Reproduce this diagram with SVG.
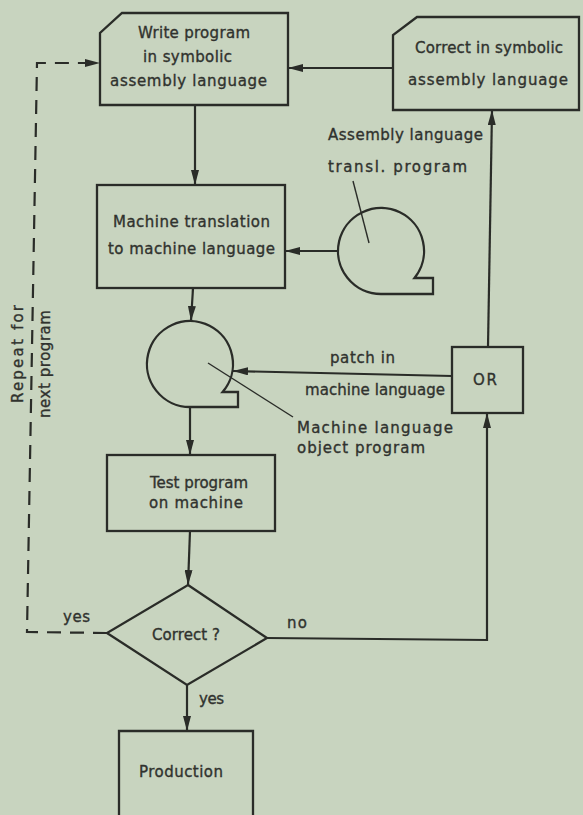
<svg xmlns="http://www.w3.org/2000/svg" width="583" height="815" viewBox="0 0 583 815">
<defs>
<style>
.s{fill:none;stroke:#2a2c28;stroke-width:2.3;stroke-linejoin:miter}
.c{fill:none;stroke:#2a2c28;stroke-width:2.2}
.d{stroke-dasharray:14,9}
.p{fill:none;stroke:#2a2c28;stroke-width:1.4}
text{font-family:"DejaVu Sans","Liberation Sans",sans-serif;font-size:15px;fill:#30322e;stroke:#30322e;stroke-width:0.35}
</style>
<marker id="ah" viewBox="0 0 15 8" refX="15" refY="4" markerWidth="15" markerHeight="8" markerUnits="userSpaceOnUse" orient="auto">
<path d="M0,0 L15,4 L0,8 z" fill="#2a2c28"/>
</marker>
</defs>
<rect width="583" height="815" fill="#c8d4bf"/>

<g id="connectors">
<path class="c" d="M195,105 L195,185" marker-end="url(#ah)"/>
<path class="c" d="M393,68 L288,68" marker-end="url(#ah)"/>
<path class="c" d="M338,251 L285,251" marker-end="url(#ah)"/>
<path class="c" d="M193,288 L191,321" marker-end="url(#ah)"/>
<path class="c" d="M190,407 L190,455" marker-end="url(#ah)"/>
<path class="c" d="M190,531 L188,585" marker-end="url(#ah)"/>
<path class="c" d="M187,685 L187,731" marker-end="url(#ah)"/>
<path class="c" d="M267,638 L487,640 L487,413" marker-end="url(#ah)"/>
<path class="c" d="M452,376 L233,371" marker-end="url(#ah)"/>
<path class="c" d="M488,347 L492,110" marker-end="url(#ah)"/>
<path class="c d" d="M107,633 L27,632 L37,63 L100,63" marker-end="url(#ah)"/>
<path class="p" d="M353,181 L369,243"/>
<path class="p" d="M208,363 L293,417"/>
</g>

<g id="write-program">
<path class="s" d="M122,13 L288,13 L288,105 L100,105 L100,33 Z"/>
<text x="138" y="38" textLength="112">Write program</text>
<text x="143" y="62" textLength="89">in symbolic</text>
<text x="110" y="86" textLength="157">assembly language</text>
</g>

<g id="correct-symbolic">
<path class="s" d="M417,17 L579,17 L579,110 L393,110 L393,35 Z"/>
<text x="415" y="53" textLength="148">Correct in symbolic</text>
<text x="408" y="85" textLength="160">assembly language</text>
</g>

<g id="translator-program">
<path class="s" d="M414.5,278 A43,43 0 1 0 381,294 L433,294 L433,278 Z"/>
<text x="328" y="140" textLength="155">Assembly language</text>
<text x="328" y="172" textLength="139">transl. program</text>
</g>

<g id="machine-translation">
<rect class="s" x="97" y="185" width="188" height="103"/>
<text x="113" y="227" textLength="157">Machine translation</text>
<text x="108" y="254" textLength="167">to machine language</text>
</g>

<g id="object-program">
<path class="s" d="M222.6,392 A43,43 0 1 0 190,407 L238,407 L238,392 Z"/>
<text x="297" y="433" textLength="156">Machine language</text>
<text x="297" y="453" textLength="128">object program</text>
</g>

<g id="patch-label">
<text x="330" y="363" textLength="65">patch in</text>
<text x="305" y="395" textLength="140">machine language</text>
</g>

<g id="or-box">
<rect class="s" x="452" y="347" width="71" height="66"/>
<text x="473" y="385" textLength="24">OR</text>
</g>

<g id="test-program">
<rect class="s" x="107" y="455" width="168" height="76"/>
<text x="150" y="488" textLength="98">Test program</text>
<text x="149" y="508" textLength="94">on machine</text>
</g>

<g id="decision">
<path class="s" d="M188,585 L267,638 L187,685 L107,633 Z"/>
<text x="152" y="640" textLength="68">Correct ?</text>
<text x="287" y="628" textLength="20">no</text>
<text x="63" y="622" textLength="27">yes</text>
<text x="199" y="704" textLength="25">yes</text>
</g>

<g id="production">
<path class="s" d="M119,815 L119,731 L253,731 L253,815"/>
<text x="139" y="777" textLength="84">Production</text>
</g>

<g id="repeat-label">
<text transform="translate(18,403) rotate(-90)" x="0" y="5" textLength="98">Repeat for</text>
<text transform="translate(45,418) rotate(-90)" x="0" y="5" textLength="108">next program</text>
</g>
</svg>
